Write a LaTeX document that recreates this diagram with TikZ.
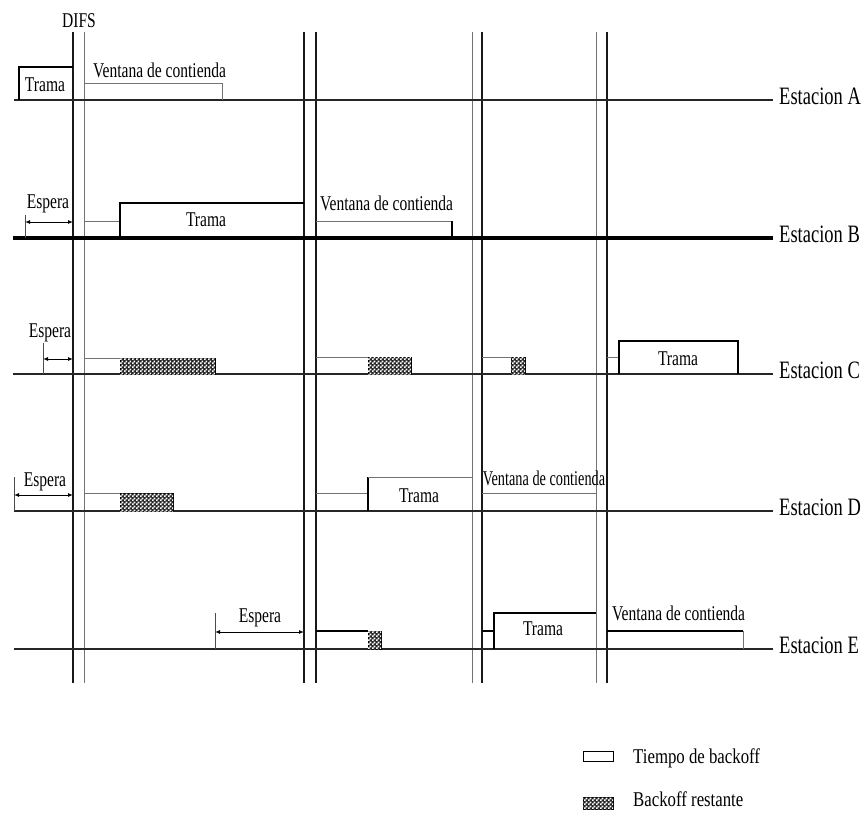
\documentclass[tikz,border=0pt]{standalone}
\usepackage{fontspec}
\setmainfont{Liberation Serif}[FakeStretch=0.74]
\usetikzlibrary{arrows.meta,patterns}
\pgfdeclarepatternformonly{mychk}{\pgfqpoint{0pt}{0pt}}{\pgfqpoint{4pt}{4pt}}{\pgfqpoint{4pt}{4pt}}{%
  \pgfpathrectangle{\pgfqpoint{0pt}{0pt}}{\pgfqpoint{2pt}{2pt}}%
  \pgfpathrectangle{\pgfqpoint{2pt}{2pt}}{\pgfqpoint{2pt}{2pt}}%
  \pgfusepath{fill}}
\begin{document}
\begin{tikzpicture}[x=1pt,y=-1pt,
  txt/.style={font=\fontsize{21}{24}\selectfont, inner sep=0pt},
  lbl/.style={font=\fontsize{25}{28}\selectfont, inner sep=0pt, anchor=base west},
  station/.style={line width=2pt, black!85},
  vblack/.style={line width=1.6pt, black!90},
  vgray/.style={line width=1pt, black!55},
  gbox/.style={line width=1pt, black!55},
  bbox/.style={line width=1.4pt, black},
  hatch/.style={draw=black, line width=0.8pt, fill=black!85, postaction={pattern=mychk, pattern color=white}},
  espera/.style={line width=1pt, {Latex[length=5pt,width=4pt]}-{Latex[length=5pt,width=4pt]}},
  tickline/.style={line width=1pt, black!70}
]
\useasboundingbox (0,0) rectangle (864,812);
% vertical lines
\draw[vblack] (73,32) -- (73,683);
\draw[vgray] (84,32) -- (84,683);
\draw[vblack] (304,32) -- (304,683);
\draw[vblack] (316,32) -- (316,683);
\draw[vgray] (472,32) -- (472,683);
\draw[vblack] (482,32) -- (482,683);
\draw[vgray] (596,32) -- (596,683);
\draw[vblack] (607,32) -- (607,683);
% station lines
\draw[station] (14,100) -- (773,100);
\draw[line width=3.5pt] (13,238) -- (773,238);
\draw[station] (13,374) -- (773,374);
\draw[station] (14,511) -- (773,511);
\draw[station] (14,649) -- (773,649);
\node[txt, anchor=base] (difs) at (79,27) {DIFS};
% Station A
\draw[bbox] (19,100) -- (19,67) -- (73,67);
\node[txt, anchor=base] (tA) at (45,91) {Trama};
\draw[gbox] (84,83) -- (222,83) -- (222,100);
\node[txt, anchor=base west] (vA) at (93,77) {Ventana de contienda};
% Station B
\draw[tickline] (25,215) -- (25,238);
\draw[espera] (25,222) -- (73,222);
\node[txt, anchor=base] (eB) at (48,208) {Espera};
\draw[gbox] (84,221) -- (120,221);
\draw[bbox] (120,238) -- (120,203) -- (304,203);
\node[txt, anchor=base] (tB) at (206,226) {Trama};
\draw[gbox] (316,221) -- (452,221);
\draw[bbox] (452,221) -- (452,238);
\node[txt, anchor=base west] (vB) at (320,210) {Ventana de contienda};
% Station C
\draw[tickline] (43,343) -- (43,374);
\draw[espera] (43,359) -- (73,359);
\node[txt, anchor=base] (eC) at (50,337) {Espera};
\draw[gbox] (84,358) -- (120,358);
\draw[hatch] (120,358) rectangle (215,374);
\draw[gbox] (316,357) -- (368,357);
\draw[hatch] (368,357) rectangle (411,374);
\draw[gbox] (482,357) -- (511,357);
\draw[hatch] (511,357) rectangle (525,374);
\draw[gbox] (607,357) -- (619,357);
\draw[bbox] (619,374) -- (619,341) -- (738,341) -- (738,374);
\node[txt, anchor=base] (tC) at (678,365) {Trama};
% Station D
\draw[tickline] (14,477) -- (14,511);
\draw[espera] (14,495) -- (73,495);
\node[txt, anchor=base] (eD) at (45,486) {Espera};
\draw[gbox] (84,493) -- (120,493);
\draw[hatch] (120,493) rectangle (173,511);
\draw[gbox] (316,493) -- (368,493);
\draw[line width=2.2pt] (368,477) -- (368,511);
\draw[gbox] (368,477) -- (472,477);
\node[txt, anchor=base] (tD) at (419,502) {Trama};
\draw[gbox] (482,493) -- (596,493);
\node[txt, anchor=base, xscale=0.92] (vD) at (544,485) {Ventana de contienda};
% Station E
\draw[tickline] (215,613) -- (215,649);
\draw[espera] (215,632) -- (304,632);
\node[txt, anchor=base] (eE) at (260,622) {Espera};
\draw[bbox] (316,631) -- (368,631);
\draw[hatch] (368,631) rectangle (381,649);
\draw[bbox] (482,631) -- (494,631);
\draw[bbox] (494,649) -- (494,613) -- (596,613);
\node[txt, anchor=base] (tE) at (543,635) {Trama};
\draw[bbox] (607,631) -- (743,631);
\draw[gbox] (743,631) -- (743,649);
\node[txt, anchor=base west] (vE) at (612,620) {Ventana de contienda};
% station labels
\node[lbl] (sA) at (779,104) {Estacion A};
\node[lbl] (sB) at (779,242) {Estacion B};
\node[lbl] (sC) at (779,378) {Estacion C};
\node[lbl] (sD) at (779,515) {Estacion D};
\node[lbl] (sE) at (779,653) {Estacion E};
% legend
\draw[line width=1pt] (583,751) rectangle (613,761);
\node[txt, anchor=base west, xscale=1.08] (l1) at (633,763) {Tiempo de backoff};
\draw[hatch] (583,797) rectangle (613,809);
\node[txt, anchor=base west, xscale=1.08] (l2) at (633,806) {Backoff restante};
\end{tikzpicture}
\end{document}
